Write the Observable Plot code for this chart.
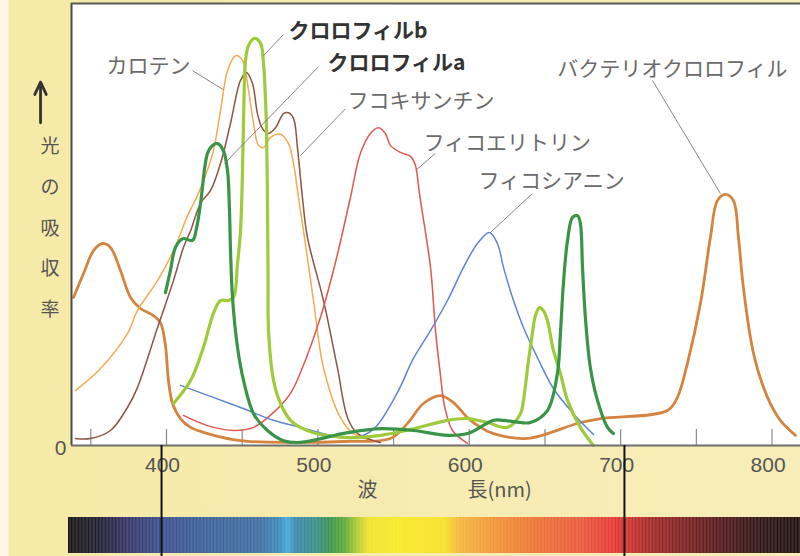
<!DOCTYPE html>
<html><head><meta charset="utf-8">
<script src="https://cdn.jsdelivr.net/npm/d3@7"></script>
<script src="https://cdn.jsdelivr.net/npm/@observablehq/plot@0.6"></script>
<style>
html,body{margin:0;padding:0;}
body{width:800px;height:556px;overflow:hidden;background:linear-gradient(to right,#fbf7e4 0,#fbf7e4 8px,#f6eaa8 9px,#f7edb8 100%);}
#wrap{position:relative;width:800px;height:556px;}
#wrap svg{position:absolute;left:0;background:transparent;}
</style></head><body><div id="wrap"></div>
<script>
// ---- data: [wavelength nm, relative absorbance (0-100)] ----
const bacteriochlorophyll = [[338.6,33.5],[345.2,38.9],[351.8,44.1],[357.7,45.7],[363.0,44.8],[369.6,39.6],[376.2,33.5],[382.8,31.0],[391.4,29.4],[396.0,27.8],[399.3,22.6],[401.3,14.7],[404.0,9.5],[409.2,6.1],[415.9,4.1],[427.1,2.7],[448.9,1.1],[483.9,0.7],[516.9,0.9],[547.9,1.6],[559.2,5.0],[569.7,9.5],[581.0,11.3],[589.6,9.7],[598.8,6.3],[607.4,4.1],[616.0,2.7],[638.4,1.6],[673.4,5.2],[686.7,6.1],[730.9,7.9],[737.5,10.9],[744.1,18.6],[752.7,32.1],[759.3,47.1],[763.9,55.4],[769.2,56.8],[774.5,55.4],[777.8,47.1],[781.1,35.7],[787.8,20.8],[797.0,10.9],[805.5,5.7],[815.5,2.3]];
const carotene = [[339.9,12.4],[356.4,17.4],[374.2,25.3],[380.8,30.5],[394.1,37.3],[404.6,44.1],[413.9,52.0],[420.5,56.6],[425.8,61.1],[431.0,66.7],[435.7,75.8],[440.3,84.8],[445.6,88.2],[450.2,87.1],[454.2,80.3],[457.5,72.9],[460.8,67.9],[464.1,67.4],[468.7,69.7],[475.3,70.4],[480.6,68.3],[483.9,63.8],[487.2,56.1],[490.5,48.6],[497.1,32.8],[503.7,17.6],[514.9,6.3],[523.5,2.7],[541.3,0.7]];
const fucoxanthin = [[339.9,1.6],[349.8,1.6],[363.0,3.4],[374.2,8.6],[380.8,13.1],[394.1,26.7],[404.6,37.3],[411.2,44.8],[415.9,48.6],[422.5,54.8],[429.1,57.7],[435.7,63.8],[442.3,72.9],[448.9,82.6],[452.8,84.4],[456.8,81.9],[460.1,75.1],[463.4,71.7],[467.4,70.6],[472.0,71.9],[477.3,75.1],[480.6,75.3],[483.9,74.0],[486.5,67.4],[489.8,56.1],[493.1,47.1],[503.7,32.8],[512.9,17.6],[519.6,6.3],[526.2,2.7],[541.3,0.7]];
const chlorophyllB = [[404.6,9.5],[415.9,14.7],[424.4,22.2],[431.0,29.9],[435.7,32.8],[441.0,32.8],[444.3,33.5],[446.9,41.2],[448.9,48.6],[450.2,62.2],[450.9,73.5],[452.2,87.1],[454.2,90.5],[458.1,92.1],[462.1,91.0],[464.1,86.4],[465.4,78.1],[466.1,71.3],[466.7,55.4],[467.1,37.3],[467.4,26.0],[470.7,14.7],[475.3,9.5],[481.9,5.7],[488.5,4.1],[497.1,2.9],[519.6,1.8],[541.3,2.3],[563.1,3.8],[585.6,5.7],[598.8,6.1],[612.0,5.2],[625.2,4.1],[633.8,7.2],[635.8,10.2],[639.1,19.2],[641.7,25.3],[643.7,29.4],[646.4,31.2],[649.0,30.5],[651.6,28.3],[655.6,21.5],[660.2,16.3],[664.9,10.2],[673.4,4.1],[682.0,0]];
const chlorophyllA = [[399.3,34.6],[402.6,39.6],[405.9,44.8],[410.6,46.8],[417.2,46.4],[419.8,49.1],[422.5,54.8],[427.1,66.1],[430.4,67.9],[433.7,68.3],[437.6,66.7],[440.3,62.2],[441.6,53.2],[442.3,44.1],[443.6,33.5],[446.9,22.2],[450.9,14.7],[457.5,7.2],[466.7,3.4],[477.3,1.1],[488.5,0.7],[519.6,2.9],[541.3,3.8],[563.1,3.4],[585.6,2.3],[598.8,2.7],[616.0,5.7],[622.6,5.7],[633.8,5.2],[640.4,5.2],[651.6,7.9],[658.2,16.3],[660.2,25.3],[662.2,36.7],[664.9,46.4],[668.2,51.6],[671.5,52.0],[673.4,50.2],[674.8,40.3],[676.7,29.0],[680.0,17.6],[684.7,10.2],[691.3,4.1],[695.2,2.7]];
const phycoerythrin = [[411.2,6.8],[427.1,4.5],[444.3,3.4],[457.5,4.1],[472.0,7.9],[481.9,11.8],[488.5,16.5],[501.7,29.0],[511.6,41.4],[521.5,56.1],[528.1,66.1],[534.7,70.6],[540.0,71.9],[544.6,70.6],[547.9,67.9],[554.6,66.3],[561.2,65.4],[564.5,63.3],[566.4,58.8],[567.8,55.4],[574.4,40.3],[577.7,26.0],[581.0,15.8],[583.6,9.0],[588.9,3.4],[598.8,0.5]];
const phycocyanin = [[409.2,13.6],[448.9,8.6],[470.7,5.7],[488.5,4.1],[508.3,2.3],[521.5,1.6],[528.1,2.0],[538.0,4.1],[552.6,12.0],[563.1,19.7],[574.4,26.0],[585.6,32.8],[596.2,40.3],[605.4,45.7],[613.3,48.2],[618.6,45.7],[622.6,40.3],[629.2,32.8],[635.8,26.7],[645.0,19.9],[655.6,12.9],[668.8,7.2],[682.0,2.5]];

const pigmentNames = ["バクテリオクロロフィル","カロテン","フコキサンチン","フィコエリトリン","フィコシアニン","クロロフィルb","クロロフィルa"];
const tickNm = [350,400,450,500,550,600,650,700,750,800];
const tickLabelNm = [400,500,600,700,800];
const xTitle = ["波","長(nm)"];
const yTitle = "光の吸収率";
const visibleLimits = [400,700];
// spectrum bar colour stops (nm on the bar, colour)
const spectrumNm = [339.7,360.5,378.6,399.4,425.3,464.2,477.1,482.3,487.5,499.8,509.5,519.3,527.0,534.2,554.9,584.1,593.8,619.7,645.6,671.6,692.3,700.7,713.7,736.4,762.3,788.2,814.1];
const spectrumColor = ["#0b0b14","#151533","#2b2b6c","#31468f","#30599a","#3569a8","#2f88c4","#39a8e6","#2f82b0","#2e8a90","#2f8f4e","#58a838","#a8cc30","#f2e42a","#f8ea22","#f9e026","#f5b43a","#f08a35","#ec6a33","#e9523a","#e43030","#d42c2c","#a82028","#7a1820","#4a1018","#250a10","#120608"];

// ---- styles (kept apart from the data) ----
const series = [
  {data: bacteriochlorophyll, stroke: "#d4843f", w: 2.8},
  {data: carotene, stroke: "#f5ab52", w: 1.5},
  {data: fucoxanthin, stroke: "#8e5443", w: 1.5},
  {data: phycoerythrin, stroke: "#e0584e", w: 1.5},
  {data: phycocyanin, stroke: "#5f84d4", w: 1.5},
  {data: chlorophyllB, stroke: "#9dcb3a", w: 3.2},
  {data: chlorophyllA, stroke: "#3a9448", w: 3.2}
];
// label anchors and leader lines, in data units
const annotations = [
  {name: pigmentNames[1], x: 415.9, y: 85.7, anchor: "end", bold: false, lx1: 417.2, ly1: 84.8, lx2: 437.6, ly2: 80.5},
  {name: pigmentNames[5], x: 480.6, y: 93.7, anchor: "start", bold: true, lx1: 477.3, ly1: 93.0, lx2: 464.1, ly2: 88.2},
  {name: pigmentNames[6], x: 506.3, y: 86.4, anchor: "start", bold: true, lx1: 500.4, ly1: 85.7, lx2: 438.3, ly2: 63.8},
  {name: pigmentNames[2], x: 519.6, y: 77.8, anchor: "start", bold: false, lx1: 518.2, ly1: 76.2, lx2: 488.5, ly2: 65.6},
  {name: pigmentNames[3], x: 569.7, y: 68.3, anchor: "start", bold: false, lx1: 577.7, ly1: 66.1, lx2: 564.5, ly2: 62.2},
  {name: pigmentNames[4], x: 606.1, y: 59.7, anchor: "start", bold: false, lx1: 641.7, ly1: 57.0, lx2: 614.0, ly2: 48.2},
  {name: pigmentNames[0], x: 658.2, y: 85.1, anchor: "start", bold: false, lx1: 721.0, ly1: 82.6, lx2: 765.9, ly2: 57.0}
];

const JP = "'Noto Sans CJK JP','Noto Sans',sans-serif";
const NUM = "'Liberation Sans Narrow','Liberation Sans',Arial,sans-serif";
const X_DOMAIN = [337.25, 818.8];

const main = Plot.plot({
  width: 800, height: 556,
  marginLeft: 71, marginRight: 0, marginTop: 3, marginBottom: 111,
  x: {domain: X_DOMAIN},
  y: {domain: [0, 100]},
  style: {background: "transparent", fontFamily: JP, overflow: "visible"},
  marks: [
    Plot.frame({fill: "white", stroke: null}),
    Plot.tickX(tickNm, {stroke: "#8a8a8a", strokeWidth: 1.2, insetTop: 426}),
    ...series.map(s => Plot.line(s.data, {x: d => d[0], y: d => d[1], stroke: s.stroke, strokeWidth: s.w, curve: "catmull-rom", strokeLinecap: "round"})),
    Plot.ruleX([X_DOMAIN[0]], {stroke: "#4a4a4a", strokeWidth: 2}),
    Plot.ruleY([100], {stroke: "#5a5a5a", strokeWidth: 2}),
    Plot.ruleY([0], {stroke: "#6e6e6e", strokeWidth: 2.2}),
    Plot.link(annotations, {x1: "lx1", y1: "ly1", x2: "lx2", y2: "ly2", stroke: "#777", strokeWidth: 0.9}),
    Plot.text(annotations.filter(d => !d.bold && d.anchor === "end"), {x: "x", y: "y", text: "name", textAnchor: "end", fontSize: 21, fill: "#6a6a6a", fontFamily: JP}),
    Plot.text(annotations.filter(d => !d.bold && d.anchor === "start"), {x: "x", y: "y", text: "name", textAnchor: "start", fontSize: 21, fill: "#6a6a6a", fontFamily: JP}),
    Plot.text(annotations.filter(d => d.bold), {x: "x", y: "y", text: "name", textAnchor: "start", fontSize: 21, fontWeight: "bold", fill: "#333", fontFamily: JP}),
    Plot.axisX({ticks: tickLabelNm, tickSize: 0, tickPadding: 12, fontSize: 21, fontFamily: NUM, fill: "#555", dx: -4, label: null, tickFormat: d => String(d)}),
    Plot.axisY({ticks: [0], tickSize: 0, tickPadding: 5, fontSize: 21, fontFamily: NUM, fill: "#555", dy: 3, label: null, tickFormat: d => String(d)}),
    Plot.text([xTitle[0]], {x: [532.8], frameAnchor: "bottom", dy: 51, text: d => d, fontSize: 20, fill: "#555", fontFamily: JP}),
    Plot.text([xTitle[1]], {x: [598.8], frameAnchor: "bottom", dy: 51, text: d => d, textAnchor: "start", fontSize: 20, fill: "#555", fontFamily: JP}),
    Plot.text([yTitle.split("").join("\n")], {frameAnchor: "left", dx: -31, dy: -3, text: d => d, lineHeight: 2.15, fontSize: 19, fill: "#555", fontFamily: JP}),
    Plot.arrow([0], {x1: () => 316.8, x2: () => 316.8, y1: () => 73.0, y2: () => 82.2, stroke: "#333", strokeWidth: 2.8, headLength: 11, headAngle: 50})
  ]
});
main.style.top = "0px";

const spec = d3.scaleLinear().domain(spectrumNm).range(spectrumColor).interpolate(d3.interpolateRgb);
const bins = d3.range(spectrumNm[0], spectrumNm[spectrumNm.length - 1], 0.5).map(a => ({a, b: a + 0.6}));
const bar = Plot.plot({
  width: 800, height: 111,
  marginLeft: 68, marginRight: 0, marginTop: 72, marginBottom: 3,
  x: {domain: [spectrumNm[0], spectrumNm[spectrumNm.length - 1]], axis: null},
  style: {background: "transparent", overflow: "visible"},
  marks: [
    Plot.barX(bins, {x1: "a", x2: "b", fill: d => spec((d.a + d.b) / 2)}),
    Plot.ruleX(visibleLimits, {stroke: "#111", strokeWidth: 2, insetTop: -72, insetBottom: -3})
  ]
});
bar.style.top = "445px";

const wrap = document.getElementById("wrap");
wrap.appendChild(main);
wrap.appendChild(bar);
</script>
</body></html>
